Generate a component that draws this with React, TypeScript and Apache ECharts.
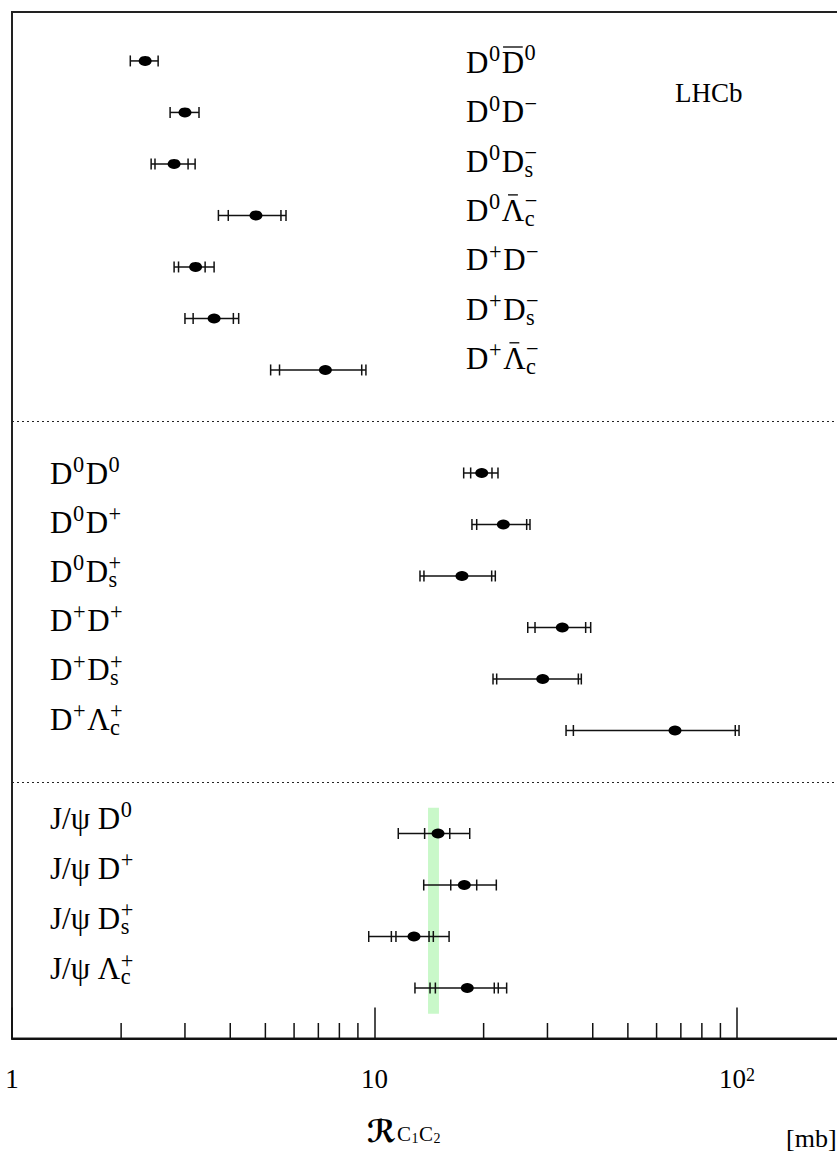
import React, { useEffect, useRef } from 'react';
import * as echarts from 'echarts';

type Part = { b: string; sup?: string; sub?: string; bar?: boolean };

// ---------- data ----------
const TOP_LABELS: Part[][] = [
  [{ b: 'D', sup: '0' }, { b: 'D', sup: '0', bar: true }],
  [{ b: 'D', sup: '0' }, { b: 'D', sup: '\u2212' }],
  [{ b: 'D', sup: '0' }, { b: 'D', sup: '\u2212', sub: 's' }],
  [{ b: 'D', sup: '0' }, { b: '\u039B', sup: '\u2212', sub: 'c', bar: true }],
  [{ b: 'D', sup: '+' }, { b: 'D', sup: '\u2212' }],
  [{ b: 'D', sup: '+' }, { b: 'D', sup: '\u2212', sub: 's' }],
  [{ b: 'D', sup: '+' }, { b: '\u039B', sup: '\u2212', sub: 'c', bar: true }],
];
const TOP_ROWS = [0, 1, 2, 3, 4, 5, 6];
const TOP_VALUES = [2.33, 3.0, 2.8, 4.71, 3.21, 3.61, 7.32];
const TOP_LOW = [[2.12], [2.73], [2.42, 2.48], [3.71, 3.95], [2.8, 2.88], [3.0, 3.16], [5.17, 5.47]];
const TOP_HIGH = [[2.53], [3.28], [3.06, 3.2], [5.52, 5.7], [3.41, 3.61], [4.08, 4.22], [9.22, 9.47]];

const MID_LABELS: Part[][] = [
  [{ b: 'D', sup: '0' }, { b: 'D', sup: '0' }],
  [{ b: 'D', sup: '0' }, { b: 'D', sup: '+' }],
  [{ b: 'D', sup: '0' }, { b: 'D', sup: '+', sub: 's' }],
  [{ b: 'D', sup: '+' }, { b: 'D', sup: '+' }],
  [{ b: 'D', sup: '+' }, { b: 'D', sup: '+', sub: 's' }],
  [{ b: 'D', sup: '+' }, { b: '\u039B', sup: '+', sub: 'c' }],
];
const MID_ROWS = [8, 9, 10, 11, 12, 13];
const MID_VALUES = [19.76, 22.67, 17.43, 32.97, 29.11, 67.45];
const MID_LOW = [[17.62, 18.42], [18.57, 19.14], [13.35, 13.69], [26.47, 27.72], [21.23, 21.73], [33.76, 35.37]];
const MID_HIGH = [[21.09, 21.91], [26.29, 26.85], [21.05, 21.54], [38.24, 39.48], [36.5, 37.2], [98.9, 101.3]];

const BOT_LABELS: Part[][] = [
  [{ b: 'J/\u03C8 ' }, { b: 'D', sup: '0' }],
  [{ b: 'J/\u03C8 ' }, { b: 'D', sup: '+' }],
  [{ b: 'J/\u03C8 ' }, { b: 'D', sup: '+', sub: 's' }],
  [{ b: 'J/\u03C8 ' }, { b: '\u039B', sup: '+', sub: 'c' }],
];
const BOT_ROWS = [15, 16, 17, 18];
const BOT_VALUES = [14.97, 17.69, 12.85, 18.03];
const BOT_LOW = [[11.63, 13.75], [13.67, 16.23], [9.64, 11.13, 11.46], [12.93, 14.23, 14.72]];
const BOT_HIGH = [[16.13, 18.31], [19.14, 21.68], [14.14, 14.53, 16.06], [21.4, 21.95, 23.15]];

const BAND_X = [14.05, 15.06];
const BAND_ROWS = [14.5, 18.5];
const SEPARATOR_ROWS = [7, 14];

const X_MIN = 1;
const X_MAX = 1000;
const X_TICK_VALUES = [1, 10, 100];
const X_TICK_BASES = ['1', '10', '10'];
const X_TICK_EXPS = ['', '', '2'];
const MINOR_TICKS = [2, 3, 4, 5, 6, 7, 8, 9, 20, 30, 40, 50, 60, 70, 80, 90];

const ROW_MIN = -0.95;
const ROW_MAX = 18.98;

// ---------- helpers ----------
const FONT = '"Liberation Serif", "Times New Roman", serif';

let measureCtx: CanvasRenderingContext2D | null = null;
function measure(s: string, fs: number, family = FONT, weight = 'normal'): number {
  if (!measureCtx) measureCtx = document.createElement('canvas').getContext('2d');
  if (!measureCtx) return s.length * fs * 0.5;
  measureCtx.font = `${weight} ${fs}px ${family}`;
  return measureCtx.measureText(s).width;
}

function txt(s: string, x: number, y: number, fs: number, family = FONT, weight = 'normal'): any {
  return {
    type: 'text',
    x,
    y,
    silent: true,
    style: {
      text: s,
      fontSize: fs,
      fontFamily: family,
      fontWeight: weight,
      lineHeight: Math.round(fs * 0.72),
      fill: '#000',
      align: 'left',
      verticalAlign: 'middle',
      textAlign: 'left',
      textVerticalAlign: 'middle',
    },
  };
}

function labelElements(parts: Part[], x0: number, yc: number, fs: number): any[] {
  const els: any[] = [];
  const sfs = fs * 0.72;
  let x = x0;
  for (const p of parts) {
    const w = measure(p.b, fs);
    els.push(txt(p.b, x, yc, fs));
    if (p.bar) {
      const inset = p.b === '\u039B' ? 0.28 * w : 0.06 * w;
      const yb = yc - 0.5 * fs;
      els.push({
        type: 'line',
        silent: true,
        shape: { x1: x + inset, y1: yb, x2: x + w - inset, y2: yb },
        style: { stroke: '#000', lineWidth: 1.3 },
      });
    }
    x += w;
    let sw = 0;
    if (p.sup) {
      els.push(txt(p.sup, x + 0.5, yc - (p.bar ? 0.33 : 0.28) * fs, sfs));
      sw = measure(p.sup, sfs);
    }
    if (p.sub) {
      els.push(txt(p.sub, x + 0.5, yc + 0.26 * fs, sfs));
      sw = Math.max(sw, measure(p.sub, sfs));
    }
    if (sw) x += sw + 0.07 * fs;
  }
  return els;
}

type Pt = { v: number; row: number; lo: number[]; hi: number[] };
const POINTS: Pt[] = [
  ...TOP_VALUES.map((v, i) => ({ v, row: TOP_ROWS[i], lo: TOP_LOW[i], hi: TOP_HIGH[i] })),
  ...MID_VALUES.map((v, i) => ({ v, row: MID_ROWS[i], lo: MID_LOW[i], hi: MID_HIGH[i] })),
  ...BOT_VALUES.map((v, i) => ({ v, row: BOT_ROWS[i], lo: BOT_LOW[i], hi: BOT_HIGH[i] })),
];

export default function App() {
  const ref = useRef<HTMLDivElement>(null);

  useEffect(() => {
    if (!ref.current) return;
    const chart = echarts.init(ref.current, undefined, { renderer: 'svg' });

    const option: any = {
      animation: false,
      backgroundColor: '#fff',
      grid: {
        left: 12,
        top: 12,
        right: 10.5,
        bottom: 112.5,
        show: true,
        borderColor: '#222',
        borderWidth: 2,
        backgroundColor: 'transparent',
      },
      xAxis: {
        type: 'log',
        logBase: 10,
        min: X_MIN,
        max: X_MAX,
        position: 'bottom',
        axisLine: { show: true, onZero: false, lineStyle: { color: '#111', width: 2 } },
        axisTick: { show: true, inside: true, length: 31, lineStyle: { color: '#111', width: 1.5 } },
        splitLine: { show: false },
        axisLabel: {
          show: true,
          margin: 27,
          color: '#000',
          fontFamily: FONT,
          fontSize: 27,
          formatter: (val: number) => {
            const idx = X_TICK_VALUES.findIndex((t) => Math.abs(Math.log10(t) - Math.log10(val)) < 1e-6);
            if (idx < 0) return '';
            const e = X_TICK_EXPS[idx];
            return `{n|${X_TICK_BASES[idx]}}` + (e ? `{sup|${e}}` : '');
          },
          rich: {
            n: { fontSize: 27, fontFamily: FONT, color: '#000', lineHeight: 26 },
            sup: { fontSize: 18, fontFamily: FONT, color: '#000', lineHeight: 11, verticalAlign: 'top' },
          },
        },
      },
      yAxis: {
        type: 'value',
        min: ROW_MIN,
        max: ROW_MAX,
        inverse: true,
        show: false,
        axisLine: { onZero: false },
        splitLine: { show: false },
      },
      series: [
        {
          type: 'custom',
          name: 'minorTicks',
          silent: true,
          z: 2,
          data: MINOR_TICKS.map((v) => [v, ROW_MAX]),
          renderItem: (params: any, api: any) => {
            const pt = api.coord([MINOR_TICKS[params.dataIndex], ROW_MAX]);
            return {
              type: 'line',
              shape: { x1: pt[0], y1: pt[1], x2: pt[0], y2: pt[1] - 15.5 },
              style: { stroke: '#111', lineWidth: 1.5 },
            };
          },
        },
        {
          type: 'custom',
          name: 'errors',
          silent: true,
          z: 3,
          data: POINTS.map((p) => [p.v, p.row]),
          renderItem: (params: any, api: any) => {
            const p = POINTS[params.dataIndex];
            const y = api.coord([p.v, p.row])[1];
            const lo = p.lo.map((v) => api.coord([v, p.row])[0]);
            const hi = p.hi.map((v) => api.coord([v, p.row])[0]);
            const xmin = Math.min(...lo);
            const xmax = Math.max(...hi);
            const st = { stroke: '#111', lineWidth: 1.5 };
            const children: any[] = [
              { type: 'line', shape: { x1: xmin, y1: y, x2: xmax, y2: y }, style: st },
            ];
            [...lo, ...hi].forEach((x) => {
              children.push({ type: 'line', shape: { x1: x, y1: y - 5.5, x2: x, y2: y + 5.5 }, style: st });
            });
            return { type: 'group', children };
          },
        },
        {
          type: 'scatter',
          name: 'points',
          silent: true,
          z: 4,
          symbol: 'circle',
          symbolSize: [13, 10],
          itemStyle: { color: '#000', opacity: 1 },
          data: POINTS.map((p) => [p.v, p.row]),
          markArea: {
            silent: true,
            z: 1,
            itemStyle: { color: '#c9f8c9' },
            data: [[{ xAxis: BAND_X[0], yAxis: BAND_ROWS[0] }, { xAxis: BAND_X[1], yAxis: BAND_ROWS[1] }]],
          },
          markLine: {
            silent: true,
            symbol: ['none', 'none'],
            label: { show: false },
            lineStyle: { color: '#222', width: 1.2, type: [2, 3] },
            data: SEPARATOR_ROWS.map((r) => ({ yAxis: r })),
          },
        },
      ],
    };

    chart.setOption(option);

    const FS = 31;
    const graphics: any[] = [];
    TOP_LABELS.forEach((parts, i) => graphics.push(...labelElements(parts, 466, 62.5 + 49.3 * i, FS)));
    MID_LABELS.forEach((parts, i) => graphics.push(...labelElements(parts, 50, 473 + 49.2 * i, FS)));
    BOT_LABELS.forEach((parts, i) => graphics.push(...labelElements(parts, 50, 818 + 50.3 * i, FS)));

    graphics.push(txt('LHCb', 675, 93, 27));

    // axis title: R_{C1C2}
    const rFam = '"DejaVu Serif", "DejaVu Sans", serif';
    const rFs = 31;
    graphics.push(txt('\u211B', 367, 1131, rFs, rFam, 'bold'));
    let tx = 367 + measure('\u211B', rFs, rFam, 'bold') + 1;
    const subParts: [string, number, number][] = [
      ['C', 21, 1134],
      ['1', 14, 1138],
      ['C', 21, 1134],
      ['2', 14, 1138],
    ];
    subParts.forEach(([s, fs, y]) => {
      graphics.push(txt(s, tx, y, fs));
      tx += measure(s, fs) + 0.5;
    });
    graphics.push(txt('[mb]', 786, 1138, 26));

    chart.setOption({ graphic: { elements: graphics } });

    return () => chart.dispose();
  }, []);

  return (
    <div
      style={{
        position: 'fixed',
        left: 0,
        top: 0,
        width: 837,
        height: 1151,
        overflow: 'hidden',
        background: '#fff',
      }}
    >
      <div ref={ref} style={{ width: 1110, height: 1151 }} />
    </div>
  );
}
